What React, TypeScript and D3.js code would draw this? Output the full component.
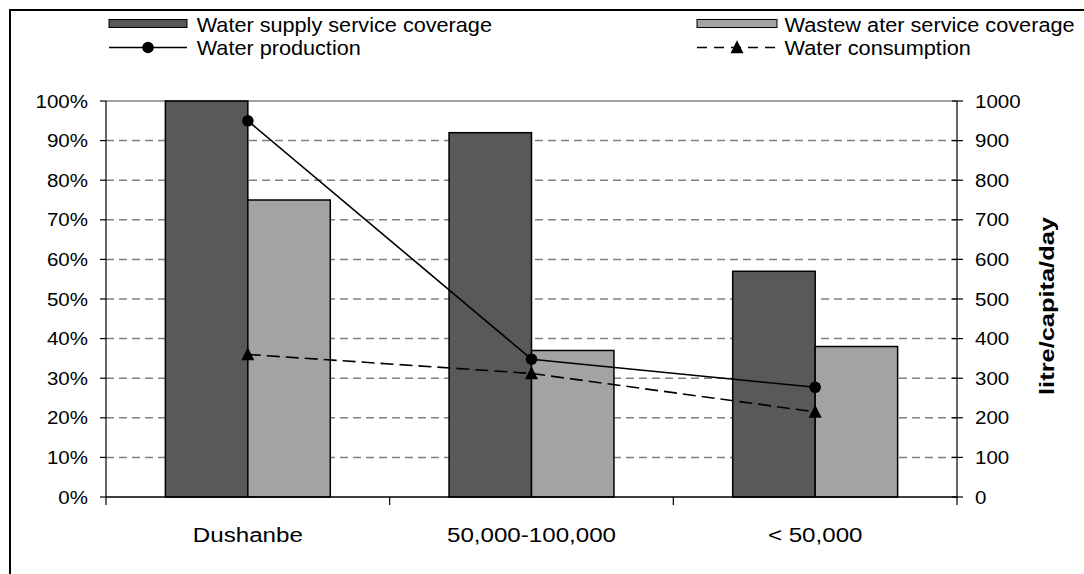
import React from "react";
import * as d3 from "d3";

const categories = ["Dushanbe", "50,000-100,000", "< 50,000"];
const waterSupply = [100, 92, 57];
const wastewater = [75, 37, 38];
const production = [950, 348, 277];
const consumption = [360, 312, 215];
const leftTicks = [0, 10, 20, 30, 40, 50, 60, 70, 80, 90, 100];
const rightTicks = [0, 100, 200, 300, 400, 500, 600, 700, 800, 900, 1000];
const seriesKeys = ["supply", "wastewater"];
const legendBarLabels = ["Water supply service coverage", "Wastew ater service coverage"];
const legendLineLabels = ["Water production", "Water consumption"];

const W = 1084;
const H = 574;
const L = 106, R = 957, T = 101, B = 497;
const FONT = "'Liberation Sans', Arial, Helvetica, sans-serif";
const DARK = "#595959";
const LIGHT = "#a3a3a3";

export default function App() {
  const x0 = d3.scaleBand<string>().domain(categories).range([L, R]).paddingInner(0).paddingOuter(0);
  const x1 = d3.scaleBand<string>().domain(seriesKeys).range([0, x0.bandwidth()]).paddingInner(0).paddingOuter(0.72);
  const yL = d3.scaleLinear().domain([0, 100]).range([B, T]);
  const yR = d3.scaleLinear().domain([0, 1000]).range([B, T]);
  const cx = (c: string) => (x0(c) as number) + x0.bandwidth() / 2;

  const lineGen = d3.line<[number, number]>().x(d => d[0]).y(d => d[1]);
  const prodPts: [number, number][] = categories.map((c, i) => [cx(c), yR(production[i])]);
  const consPts: [number, number][] = categories.map((c, i) => [cx(c), yR(consumption[i])]);

  const tri = (x: number, y: number, s: number) =>
    `M${x},${y - s * 0.55} L${x + s / 2},${y + s * 0.45} L${x - s / 2},${y + s * 0.45} Z`;

  const catBounds = [L, ...categories.map(c => (x0(c) as number) + x0.bandwidth())];

  return (
    <svg width={W} height={H} style={{ position: "absolute", left: 0, top: 0, background: "#fff" }} fontFamily={FONT}>
      <rect x={0} y={0} width={W} height={H} fill="#fff" />
      {/* outer frame */}
      <rect x={10} y={10} width={W + 40} height={H + 40} fill="none" stroke="#000" strokeWidth={2} />

      {/* gridlines */}
      {leftTicks.filter(t => t > 0 && t < 100).map(t => (
        <line key={"g" + t} x1={L} x2={R} y1={yL(t)} y2={yL(t)} stroke="#808080" strokeWidth={1.5} strokeDasharray="8,5" />
      ))}
      <line x1={L} x2={R} y1={yL(100)} y2={yL(100)} stroke="#808080" strokeWidth={1.5} />

      {/* bars */}
      {categories.map((c, i) => (
        <g key={c} transform={`translate(${x0(c)},0)`}>
          <rect x={x1("supply")} y={yL(waterSupply[i])} width={x1.bandwidth()} height={B - yL(waterSupply[i])} fill={DARK} stroke="#000" strokeWidth={1.5} />
          <rect x={x1("wastewater")} y={yL(wastewater[i])} width={x1.bandwidth()} height={B - yL(wastewater[i])} fill={LIGHT} stroke="#000" strokeWidth={1.5} />
        </g>
      ))}

      {/* axes */}
      <line x1={L} x2={L} y1={T} y2={B} stroke="#000" strokeWidth={1.2} />
      <line x1={R} x2={R} y1={T} y2={B} stroke="#000" strokeWidth={1.2} />
      <line x1={L} x2={R} y1={B} y2={B} stroke="#000" strokeWidth={1.5} />
      {catBounds.map((b, i) => (
        <line key={"ct" + i} x1={b} x2={b} y1={B} y2={B + 8} stroke="#000" strokeWidth={1.2} />
      ))}
      {leftTicks.map(t => (
        <g key={"lt" + t}>
          <line x1={L - 6} x2={L} y1={yL(t)} y2={yL(t)} stroke="#000" strokeWidth={1.2} />
          <text transform={`translate(88,${yL(t)}) scale(1.08,1)`} dy="0.35em" textAnchor="end" fontSize={19} fill="#000">{t + "%"}</text>
        </g>
      ))}
      {rightTicks.map(t => (
        <g key={"rt" + t}>
          <line x1={R - 5} x2={R + 6} y1={yR(t)} y2={yR(t)} stroke="#000" strokeWidth={1.2} />
          <text transform={`translate(975,${yR(t)}) scale(1.08,1)`} dy="0.35em" textAnchor="start" fontSize={19} fill="#000">{t}</text>
        </g>
      ))}
      <text transform={`translate(1047,306) rotate(-90) scale(1.27,1)`} dy="0.35em" textAnchor="middle" fontSize={20} fontWeight="bold" fill="#000">litre/capita/day</text>

      {/* category labels */}
      {categories.map(c => (
        <text key={"cl" + c} transform={`translate(${cx(c)},541.5) scale(1.15,1)`} textAnchor="middle" fontSize={21} fill="#000">{c}</text>
      ))}

      {/* lines */}
      <path d={lineGen(prodPts) as string} fill="none" stroke="#000" strokeWidth={1.6} />
      <path d={lineGen(consPts) as string} fill="none" stroke="#000" strokeWidth={1.6} strokeDasharray="13,6" />
      {prodPts.map((p, i) => <circle key={"pc" + i} cx={p[0]} cy={p[1]} r={5.8} fill="#000" />)}
      {consPts.map((p, i) => <path key={"cp" + i} d={tri(p[0], p[1], 13)} fill="#000" />)}

      {/* legend */}
      <rect x={109} y={19.5} width={78} height={8} fill={DARK} stroke="#000" strokeWidth={1} />
      <text transform="translate(196.7,31.6) scale(1.057,1)" fontSize={20.5} fill="#000">{legendBarLabels[0]}</text>
      <rect x={697} y={19.5} width={80} height={8} fill={LIGHT} stroke="#000" strokeWidth={1} />
      <text transform="translate(784.6,31.6) scale(1.06,1)" fontSize={20.5} fill="#000">{legendBarLabels[1]}</text>

      <line x1={109} x2={187} y1={47.5} y2={47.5} stroke="#000" strokeWidth={1.6} />
      <circle cx={148} cy={47.5} r={5.8} fill="#000" />
      <text transform="translate(196.7,54.5) scale(1.057,1)" fontSize={20.5} fill="#000">{legendLineLabels[0]}</text>
      <line x1={697} x2={777} y1={47.5} y2={47.5} stroke="#000" strokeWidth={1.6} strokeDasharray="10,7" />
      <path d={tri(737, 47.5, 13)} fill="#000" />
      <text transform="translate(784.6,54.5) scale(1.06,1)" fontSize={20.5} fill="#000">{legendLineLabels[1]}</text>
    </svg>
  );
}
